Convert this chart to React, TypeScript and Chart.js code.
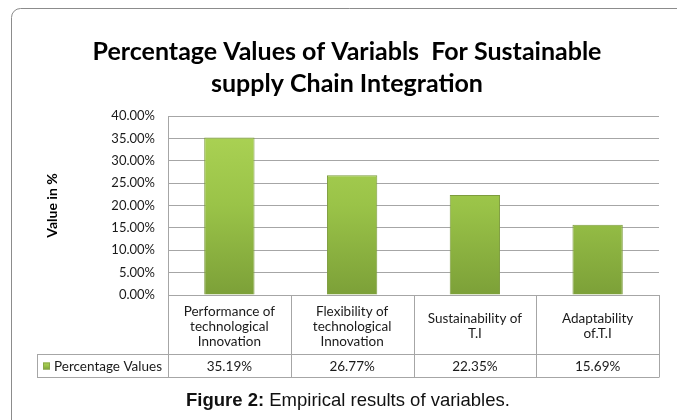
import React, { useEffect, useRef } from 'react';
import { Chart, registerables } from 'chart.js';

Chart.register(...registerables);

const categories: string[][] = [
  ['Performance of', 'technological', 'Innovation'],
  ['Flexibility of', 'technological', 'Innovation'],
  ['Sustainability of', 'T.I'],
  ['Adaptability', 'of.T.I'],
];
const values: number[] = [0.3519, 0.2677, 0.2235, 0.1569];
const seriesName = 'Percentage Values';
const titleLines: string[] = ['Percentage Values of Variabls  For Sustainable', 'supply Chain Integration'];
const yAxisTitle = 'Value in %';
const yMin = 0;
const yMax = 0.4;
const yStep = 0.05;

const FONT = 'Lato, "Open Sans", sans-serif';

function pct(v: number): string {
  return (v * 100).toFixed(2) + '%';
}

function barGradient(ctx: CanvasRenderingContext2D, top: number, bottom: number) {
  const g = ctx.createLinearGradient(0, top, 0, bottom);
  g.addColorStop(0, '#aed556');
  g.addColorStop(0.5, '#9ac348');
  g.addColorStop(1, '#7ca038');
  return g;
}

const framePlugin = {
  id: 'frame',
  beforeDraw(chart: any) {
    const { ctx, width, height } = chart;
    ctx.save();
    ctx.fillStyle = '#ffffff';
    ctx.fillRect(0, 0, width, height);
    const x = 11.5, y = 8.5, r = 9;
    ctx.strokeStyle = '#8c8c8c';
    ctx.lineWidth = 1;
    ctx.beginPath();
    ctx.moveTo(width + 2, y);
    ctx.lineTo(x + r, y);
    ctx.arcTo(x, y, x, y + r, r);
    ctx.lineTo(x, height + 2);
    ctx.stroke();
    ctx.restore();
  },
};

const tablePlugin = {
  id: 'dataTable',
  afterDraw(chart: any) {
    const { ctx, chartArea } = chart;
    const n = categories.length;
    const left = chartArea.left;
    const right = chartArea.right;
    const top = chartArea.bottom;
    const row1 = top + 59;
    const row2 = row1 + 23;
    const legendLeft = 37;
    const w = (right - left) / n;
    const a = (v: number) => Math.round(v) + 0.5;
    ctx.save();
    ctx.strokeStyle = '#a6a6a6';
    ctx.lineWidth = 1;
    ctx.beginPath();
    ctx.moveTo(legendLeft, a(row1));
    ctx.lineTo(right, a(row1));
    ctx.moveTo(legendLeft, a(row2));
    ctx.lineTo(right, a(row2));
    for (let i = 0; i <= n; i++) {
      const xx = a(left + i * w);
      ctx.moveTo(xx, top);
      ctx.lineTo(xx, a(row2));
    }
    ctx.moveTo(a(legendLeft), a(row1));
    ctx.lineTo(a(legendLeft), a(row2));
    ctx.stroke();

    ctx.fillStyle = '#1a1a1a';
    ctx.font = '13.5px ' + FONT;
    ctx.textAlign = 'center';
    ctx.textBaseline = 'middle';
    const lh = 15;
    const midCat = top + 31.5;
    for (let i = 0; i < n; i++) {
      const cx = left + (i + 0.5) * w;
      const lines = categories[i];
      const y0 = midCat - ((lines.length - 1) * lh) / 2;
      lines.forEach((ln, j) => ctx.fillText(ln, cx, y0 + j * lh));
      ctx.fillText(pct(values[i]), cx, (row1 + row2) / 2 + 1);
    }
    // legend key
    const ky = Math.round((row1 + row2) / 2) - 3.5;
    ctx.fillStyle = barGradient(ctx, ky, ky + 7);
    ctx.fillRect(43, ky, 7, 7);
    ctx.strokeStyle = '#8aa84a';
    ctx.strokeRect(43.5, ky + 0.5, 6, 6);
    ctx.fillStyle = '#1a1a1a';
    ctx.textAlign = 'left';
    ctx.fillText(seriesName, 54, (row1 + row2) / 2 + 1);
    ctx.restore();
  },
};

export default function App() {
  const ref = useRef<HTMLCanvasElement | null>(null);

  useEffect(() => {
    if (!ref.current) return;
    const chart = new Chart(ref.current, {
      type: 'bar',
      data: {
        labels: categories.map((c) => c.join(' ')),
        datasets: [
          {
            label: seriesName,
            data: values,
            backgroundColor: (c: any) => {
              const ca = c.chart.chartArea;
              if (!ca) return '#97bf46';
              return barGradient(c.chart.ctx, ca.top, ca.bottom);
            },
            borderColor: '#7d9c3e',
            borderWidth: 1,
            categoryPercentage: 1,
            barPercentage: 0.41,
          },
        ],
      },
      options: {
        responsive: false,
        animation: false,
        devicePixelRatio: 1,
        layout: { padding: { left: 35, right: 18, top: 0, bottom: 0 } },
        plugins: {
          legend: { display: false },
          tooltip: { enabled: false },
          title: {
            display: true,
            text: titleLines,
            color: '#000000',
            font: { family: FONT, size: 25, weight: 'bold', lineHeight: 32 / 25 },
            padding: { top: 36, bottom: 16 },
          },
        },
        scales: {
          x: {
            grid: { display: false, drawTicks: false },
            border: { display: true, color: '#a6a6a6' },
            ticks: { display: false },
            afterFit: (s: any) => {
              s.height = 125;
            },
          },
          y: {
            min: yMin,
            max: yMax,
            grid: { color: '#a6a6a6', drawTicks: false },
            border: { display: true, color: '#a6a6a6' },
            ticks: {
              stepSize: yStep,
              padding: 13,
              color: '#1a1a1a',
              font: { family: FONT, size: 13 },
              callback: (v: any) => pct(Number(v)),
            },
            title: {
              display: true,
              text: yAxisTitle,
              color: '#000000',
              font: { family: FONT, size: 14, weight: 'bold' },
              padding: { top: 9, bottom: 0 },
            },
            afterFit: (s: any) => {
              s.width = 168 - 35;
            },
          },
        },
      },
      plugins: [framePlugin, tablePlugin],
    } as any);
    return () => chart.destroy();
  }, []);

  return (
    <div style={{ position: 'fixed', left: 0, top: 0, width: 677, height: 420, background: '#fff' }}>
      <canvas ref={ref} width={677} height={420} style={{ display: 'block', width: 677, height: 420 }} />
      <div
        style={{
          position: 'absolute',
          left: 186,
          top: 389,
          fontFamily: '"Liberation Sans", Arial, sans-serif',
          fontSize: 18.5,
          lineHeight: '22px',
          color: '#111',
          whiteSpace: 'nowrap',
        }}
      >
        <b>Figure 2:</b> Empirical results of variables.
      </div>
    </div>
  );
}
